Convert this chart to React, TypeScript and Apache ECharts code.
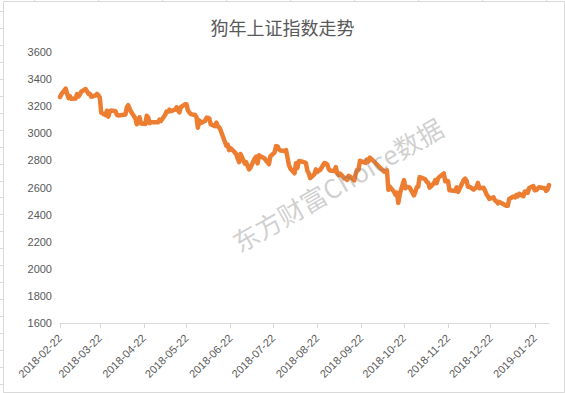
import React, { useEffect, useRef } from "react";
import * as echarts from "echarts";

const chartTitle = "狗年上证指数走势";
const watermarkText = "东方财富Choice数据";
const axisStart = "2018-02-22";
const axisEnd = "2019-02-01";
const yMin = 1600;
const yMax = 3600;
const yStep = 200;
const tickLabels = [
  "2018-02-22", "2018-03-22", "2018-04-22", "2018-05-22", "2018-06-22", "2018-07-22",
  "2018-08-22", "2018-09-22", "2018-10-22", "2018-11-22", "2018-12-22", "2019-01-22",
];

const dates = [
  "2018-02-22", "2018-02-23", "2018-02-26", "2018-02-27", "2018-02-28",
  "2018-03-01", "2018-03-02", "2018-03-05", "2018-03-06", "2018-03-07", "2018-03-08", "2018-03-09",
  "2018-03-12", "2018-03-13", "2018-03-14", "2018-03-15", "2018-03-16", "2018-03-19", "2018-03-20",
  "2018-03-21", "2018-03-22", "2018-03-23", "2018-03-26", "2018-03-27", "2018-03-28", "2018-03-29", "2018-03-30",
  "2018-04-02", "2018-04-03", "2018-04-04", "2018-04-09", "2018-04-10", "2018-04-11", "2018-04-12", "2018-04-13",
  "2018-04-16", "2018-04-17", "2018-04-18", "2018-04-19", "2018-04-20", "2018-04-23", "2018-04-24", "2018-04-25",
  "2018-04-26", "2018-04-27",
  "2018-05-02", "2018-05-03", "2018-05-04", "2018-05-07", "2018-05-08", "2018-05-09", "2018-05-10", "2018-05-11",
  "2018-05-14", "2018-05-15", "2018-05-16", "2018-05-17", "2018-05-18", "2018-05-21", "2018-05-22", "2018-05-23",
  "2018-05-24", "2018-05-25", "2018-05-28", "2018-05-29", "2018-05-30", "2018-05-31",
  "2018-06-01", "2018-06-04", "2018-06-05", "2018-06-06", "2018-06-07", "2018-06-08", "2018-06-11", "2018-06-12",
  "2018-06-13", "2018-06-14", "2018-06-15", "2018-06-19", "2018-06-20", "2018-06-21", "2018-06-22", "2018-06-25",
  "2018-06-26", "2018-06-27", "2018-06-28", "2018-06-29",
  "2018-07-02", "2018-07-03", "2018-07-04", "2018-07-05", "2018-07-06", "2018-07-09", "2018-07-10", "2018-07-11",
  "2018-07-12", "2018-07-13", "2018-07-16", "2018-07-17", "2018-07-18", "2018-07-19", "2018-07-20", "2018-07-23",
  "2018-07-24", "2018-07-25", "2018-07-26", "2018-07-27", "2018-07-30", "2018-07-31",
  "2018-08-01", "2018-08-02", "2018-08-03", "2018-08-06", "2018-08-07", "2018-08-08", "2018-08-09", "2018-08-10",
  "2018-08-13", "2018-08-14", "2018-08-15", "2018-08-16", "2018-08-17", "2018-08-20", "2018-08-21", "2018-08-22",
  "2018-08-23", "2018-08-24", "2018-08-27", "2018-08-28", "2018-08-29", "2018-08-30", "2018-08-31",
  "2018-09-03", "2018-09-04", "2018-09-05", "2018-09-06", "2018-09-07", "2018-09-10", "2018-09-11", "2018-09-12",
  "2018-09-13", "2018-09-14", "2018-09-17", "2018-09-18", "2018-09-19", "2018-09-20", "2018-09-21", "2018-09-25",
  "2018-09-26", "2018-09-27", "2018-09-28",
  "2018-10-08", "2018-10-09", "2018-10-10", "2018-10-11", "2018-10-12", "2018-10-15", "2018-10-16", "2018-10-17",
  "2018-10-18", "2018-10-19", "2018-10-22", "2018-10-23", "2018-10-24", "2018-10-25", "2018-10-26", "2018-10-29",
  "2018-10-30", "2018-10-31",
  "2018-11-01", "2018-11-02", "2018-11-05", "2018-11-06", "2018-11-07", "2018-11-08", "2018-11-09", "2018-11-12",
  "2018-11-13", "2018-11-14", "2018-11-15", "2018-11-16", "2018-11-19", "2018-11-20", "2018-11-21", "2018-11-22",
  "2018-11-23", "2018-11-26", "2018-11-27", "2018-11-28", "2018-11-29", "2018-11-30",
  "2018-12-03", "2018-12-04", "2018-12-05", "2018-12-06", "2018-12-07", "2018-12-10", "2018-12-11", "2018-12-12",
  "2018-12-13", "2018-12-14", "2018-12-17", "2018-12-18", "2018-12-19", "2018-12-20", "2018-12-21", "2018-12-24",
  "2018-12-25", "2018-12-26", "2018-12-27", "2018-12-28",
  "2019-01-02", "2019-01-03", "2019-01-04", "2019-01-07", "2019-01-08", "2019-01-09", "2019-01-10", "2019-01-11",
  "2019-01-14", "2019-01-15", "2019-01-16", "2019-01-17", "2019-01-18", "2019-01-21", "2019-01-22", "2019-01-23",
  "2019-01-24", "2019-01-25", "2019-01-28", "2019-01-29", "2019-01-30", "2019-01-31",
  "2019-02-01",
];

const closes = [
  3268.56, 3289.02, 3329.57, 3292.07, 3259.41,
  3273.75, 3254.53, 3256.93, 3289.64, 3271.67, 3288.41, 3307.17,
  3326.70, 3310.24, 3291.38, 3291.11, 3269.88, 3279.25, 3290.64,
  3280.95, 3263.48, 3152.76, 3133.72, 3166.65, 3122.29, 3160.53, 3168.90,
  3163.18, 3136.63, 3131.11, 3138.29, 3190.32, 3208.08, 3180.16, 3159.05,
  3110.65, 3066.80, 3091.40, 3117.38, 3071.54, 3068.01, 3128.93, 3117.97,
  3075.03, 3082.23,
  3081.18, 3100.86, 3091.03, 3136.65, 3161.50, 3159.15, 3174.41, 3163.26,
  3174.03, 3192.12, 3169.57, 3154.28, 3193.30, 3213.84, 3214.35, 3168.96,
  3154.65, 3141.30, 3135.08, 3120.46, 3041.44, 3095.47,
  3075.14, 3091.19, 3114.21, 3115.18, 3109.50, 3067.15, 3052.78, 3079.80,
  3049.80, 3044.16, 3021.90, 2907.82, 2915.73, 2875.81, 2889.76, 2859.34,
  2844.51, 2813.18, 2786.90, 2847.42,
  2775.56, 2786.89, 2759.13, 2733.88, 2747.23, 2815.11, 2827.63, 2777.77,
  2837.66, 2831.18, 2814.04, 2798.13, 2787.26, 2772.55, 2829.27, 2859.54,
  2905.56, 2903.65, 2882.23, 2873.59, 2869.05, 2876.40,
  2824.53, 2768.02, 2740.44, 2705.16, 2779.37, 2744.07, 2794.38, 2795.31,
  2785.87, 2780.96, 2723.26, 2705.19, 2668.97, 2698.47, 2733.85, 2714.61,
  2724.62, 2729.43, 2780.90, 2777.98, 2769.30, 2737.74, 2725.25,
  2720.73, 2750.58, 2704.34, 2691.59, 2702.30, 2669.48, 2664.80, 2656.11,
  2686.58, 2681.64, 2651.79, 2699.95, 2730.85, 2729.24, 2797.49, 2781.14,
  2806.81, 2791.77, 2821.35,
  2716.51, 2721.01, 2725.84, 2583.46, 2606.91, 2568.10, 2546.33, 2561.61,
  2486.42, 2550.47, 2654.88, 2594.83, 2603.30, 2603.80, 2598.85, 2542.10,
  2568.05, 2602.78,
  2606.24, 2676.48, 2665.43, 2659.36, 2641.34, 2635.63, 2598.87, 2630.52,
  2654.88, 2632.24, 2668.17, 2679.11, 2703.51, 2645.43, 2651.51, 2645.85,
  2579.48, 2575.81, 2574.68, 2601.74, 2567.44, 2588.19,
  2654.80, 2665.96, 2649.81, 2605.18, 2605.89, 2584.58, 2594.09, 2602.15,
  2634.05, 2593.74, 2597.97, 2576.65, 2549.56, 2536.27, 2516.25, 2527.01,
  2504.82, 2498.29, 2483.09, 2493.90,
  2465.29, 2464.36, 2514.87, 2533.09, 2526.46, 2544.34, 2535.10, 2553.83,
  2535.77, 2570.34, 2570.42, 2559.64, 2596.01, 2610.51, 2579.70, 2581.00,
  2591.69, 2601.72, 2596.98, 2594.25, 2575.58, 2584.57,
  2618.23,
];

const DAY = 86400000;

function toUTC(s: string): number {
  const [y, m, d] = s.split("-").map(Number);
  return Date.UTC(y, m - 1, d);
}

// day offset from the axis start date
function dayIndex(s: string): number {
  return Math.round((toUTC(s) - toUTC(axisStart)) / DAY);
}

function pad(n: number): string {
  return n < 10 ? "0" + n : String(n);
}

function dayLabel(v: number): string {
  const d = new Date(toUTC(axisStart) + Math.round(v) * DAY);
  return d.getUTCFullYear() + "-" + pad(d.getUTCMonth() + 1) + "-" + pad(d.getUTCDate());
}

export default function App() {
  const ref = useRef<HTMLDivElement>(null);

  useEffect(() => {
    if (!ref.current) return;
    const chart = echarts.init(ref.current, undefined, { renderer: "svg" });
    const tickDays = tickLabels.map(dayIndex);
    const lineColor = "#dadada";
    const decor: any[] = [];
    for (let x = 34; x < 565; x += 64) {
      decor.push({
        type: "line",
        shape: { x1: x + 0.5, y1: 0, x2: x + 0.5, y2: 1.5 },
        style: { stroke: lineColor, lineWidth: 1 },
        silent: true,
      });
    }
    for (let k = 0; k < 23; k++) {
      const y = Math.round(11 + k * 16.95) + 0.5;
      decor.push({
        type: "line",
        shape: { x1: 0, y1: y, x2: 3.5, y2: y },
        style: { stroke: lineColor, lineWidth: 1 },
        silent: true,
      });
    }
    decor.push({
      type: "rect",
      shape: { x: 3.5, y: 1.5, width: 561, height: 391 },
      style: { stroke: "#d9d9d9", fill: "none", lineWidth: 1 },
      silent: true,
    });
    decor.push({
      type: "text",
      x: 337,
      y: 184,
      rotation: (30 * Math.PI) / 180,
      z: 100,
      silent: true,
      style: {
        text: watermarkText,
        fontSize: 26,
        fontFamily: "'Noto Sans CJK SC', sans-serif",
        fill: "rgba(120,120,120,0.36)",
        align: "center",
        verticalAlign: "middle",
      },
    });

    chart.setOption({
      animation: false,
      backgroundColor: "#ffffff",
      title: {
        text: chartTitle,
        left: "center",
        top: 13,
        textStyle: {
          fontSize: 18,
          fontWeight: "normal",
          color: "#595959",
          fontFamily: "'Noto Sans CJK SC', sans-serif",
        },
      },
      grid: { left: 60, right: 16, top: 52, bottom: 70, containLabel: false },
      xAxis: {
        type: "value",
        min: 0,
        max: dayIndex(axisEnd),
        axisLine: { show: true, onZero: false, lineStyle: { color: "#d9d9d9", width: 1 } },
        axisTick: {
          show: true,
          length: 5,
          customValues: tickDays,
          lineStyle: { color: "#d9d9d9" },
        },
        axisLabel: {
          customValues: tickDays,
          formatter: (v: number) => dayLabel(v),
          rotate: 45,
          margin: 13,
          fontSize: 11,
          color: "#595959",
          fontFamily: "'Liberation Sans', Arial, sans-serif",
        },
        splitLine: { show: false },
      },
      yAxis: {
        type: "value",
        min: yMin,
        max: yMax,
        interval: yStep,
        axisLine: { show: false },
        axisTick: { show: false },
        splitLine: { show: false },
        axisLabel: {
          margin: 8,
          fontSize: 11,
          color: "#595959",
          fontFamily: "'Liberation Sans', Arial, sans-serif",
          formatter: (v: number) => String(v),
        },
      },
      series: [
        {
          type: "line",
          data: closes.map((v, i) => [dayIndex(dates[i]), v]),
          showSymbol: false,
          symbol: "none",
          lineStyle: { color: "#ED7D31", width: 4.5, join: "round", cap: "round" },
          itemStyle: { color: "#ED7D31" },
        },
      ],
      graphic: decor,
    });
    return () => chart.dispose();
  }, []);

  return (
    <div
      ref={ref}
      style={{ position: "fixed", left: 0, top: 0, width: 565, height: 393 }}
    />
  );
}
